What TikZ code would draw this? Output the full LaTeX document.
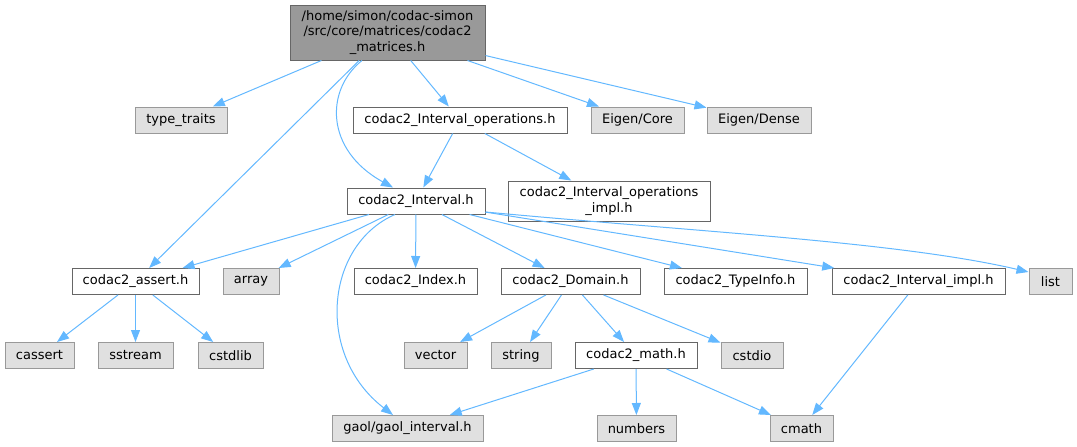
\documentclass[tikz,border=0pt]{standalone}
\usepackage{fontspec}
\setmainfont{DejaVu Sans}
\usetikzlibrary{arrows.meta,calc}
\definecolor{edgeblue}{HTML}{63B8FF}
\definecolor{rootfill}{HTML}{999999}
\definecolor{darkborder}{HTML}{666666}
\definecolor{extfill}{HTML}{E0E0E0}
\definecolor{extborder}{HTML}{999999}
\begin{document}
\begin{tikzpicture}[x=1pt,y=-1pt,
  box/.style={rectangle, draw=darkborder, fill=white, line width=1pt, inner sep=0pt,
    minimum height=26pt, font=\fontsize{13}{15.5}\selectfont, align=center},
  extbox/.style={box, draw=extborder, fill=extfill},
  rootbox/.style={box, fill=rootfill},
  dep/.style={draw=edgeblue, line width=1pt, -{Triangle[length=12pt,width=9pt]}}
]
\useasboundingbox (0,0) rectangle (1077,447);

% row 0
\node[rootbox, minimum width=195pt, minimum height=55pt] (R) at (387.5,32.5)
  {/home/simon/codac-simon\\/src/core/matrices/codac2\\\_matrices.h};
% row 1
\node[extbox, minimum width=92pt] (tt) at (181,120) {type\_traits};
\node[box, minimum width=214pt] (iops) at (460,120) {codac2\_Interval\_operations.h};
\node[extbox, minimum width=93pt] (ecore) at (637.5,120) {Eigen/Core};
\node[extbox, minimum width=104pt] (edense) at (759,120) {Eigen/Dense};
% row 2
\node[box, minimum width=138pt] (ival) at (416,201) {codac2\_Interval.h};
\node[box, minimum width=202pt, minimum height=40pt] (iopsimpl) at (609,201)
  {codac2\_Interval\_operations\\\_impl.h};
% row 3
\node[box, minimum width=127pt] (assert) at (135.5,281.5) {codac2\_assert.h};
\node[extbox, minimum width=56pt] (array) at (251,281.5) {array};
\node[box, minimum width=123pt] (index) at (415.5,281.5) {codac2\_Index.h};
\node[box, minimum width=139pt] (domain) at (570.5,281.5) {codac2\_Domain.h};
\node[box, minimum width=143pt] (typeinfo) at (735.5,281.5) {codac2\_TypeInfo.h};
\node[box, minimum width=173pt] (iimpl) at (918.5,281.5) {codac2\_Interval\_impl.h};
\node[extbox, minimum width=43pt] (list) at (1050.5,281.5) {list};
% row 4
\node[extbox, minimum width=69pt] (cassert) at (39.5,355.5) {cassert};
\node[extbox, minimum width=75pt] (sstream) at (135.5,355.5) {sstream};
\node[extbox, minimum width=65pt] (cstdlib) at (230.5,355.5) {cstdlib};
\node[extbox, minimum width=63pt] (vector) at (435.5,355.5) {vector};
\node[extbox, minimum width=60pt] (string) at (521,355.5) {string};
\node[box, minimum width=122pt] (math) at (636,355.5) {codac2\_math.h};
\node[extbox, minimum width=62pt] (cstdio) at (752,355.5) {cstdio};
% row 5
\node[extbox, minimum width=151pt] (gaol) at (407.5,428.5) {gaol/gaol\_interval.h};
\node[extbox, minimum width=79pt] (numbers) at (636.5,428.5) {numbers};
\node[extbox, minimum width=63pt] (cmath) at (801.5,428.5) {cmath};

% edges from root
\draw[dep] (R) -- (tt);
\draw[dep] (R) -- (assert);
\draw[dep] ($(R.south)+(-25.5,0)$) .. controls (325,90) and (325,150) .. ($(ival.north)+(-23,0)$);
\draw[dep] (R) -- (iops);
\draw[dep] (R) -- (ecore);
\draw[dep] (R) -- (edense);
% interval operations
\draw[dep] (iops) -- (ival);
\draw[dep] (iops) -- (iopsimpl);
% interval
\draw[dep] (ival) -- (assert);
\draw[dep] (ival) -- (array);
\draw[dep] ($(ival.south)+(-21,0)$) .. controls (325,245) and (315,355) .. ($(gaol.north)+(-14.5,0)$);
\draw[dep] (ival) -- (index);
\draw[dep] (ival) -- (domain);
\draw[dep] (ival) -- (typeinfo);
\draw[dep] (ival) -- (iimpl);
\draw[dep] ($(ival.east)+(0,11)$) .. controls (700,232) and (900,242) .. ($(list.west)+(0,-9.5)$);
% assert
\draw[dep] (assert) -- (cassert);
\draw[dep] (assert) -- (sstream);
\draw[dep] (assert) -- (cstdlib);
% domain
\draw[dep] (domain) -- (vector);
\draw[dep] (domain) -- (string);
\draw[dep] (domain) -- (math);
\draw[dep] (domain) -- (cstdio);
% math
\draw[dep] (math) -- (gaol);
\draw[dep] (math) -- (numbers);
\draw[dep] (math) -- (cmath);
% interval impl
\draw[dep] (iimpl) -- (cmath);
\end{tikzpicture}
\end{document}
